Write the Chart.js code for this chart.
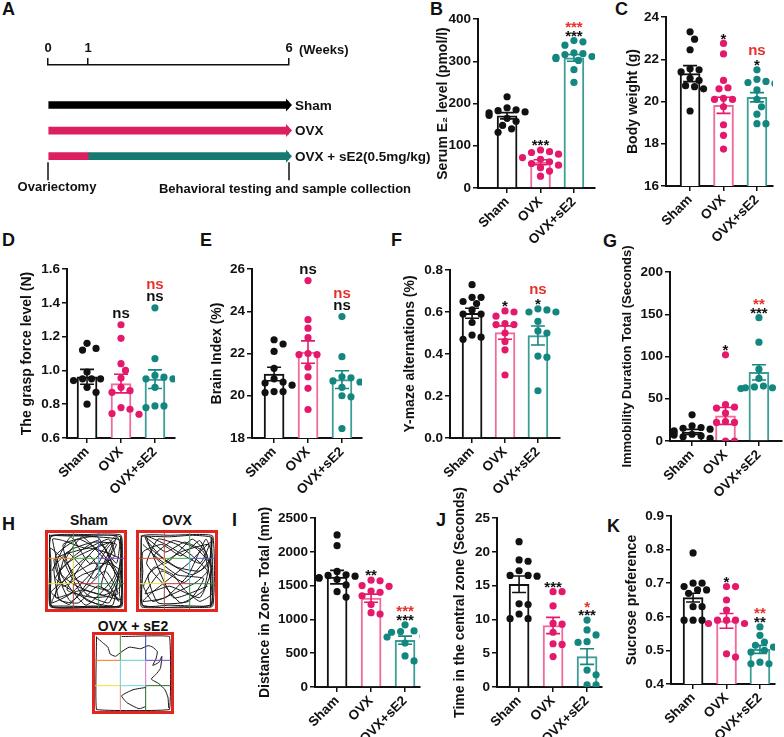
<!DOCTYPE html>
<html>
<head>
<meta charset="utf-8">
<script src="https://cdn.jsdelivr.net/npm/chart.js@4.4.0/dist/chart.umd.min.js"></script>
<style>
  body { margin: 0; width: 784px; height: 737px; position: relative; overflow: hidden; background: #fff;
         font-family: Arial, "Liberation Sans", Helvetica, sans-serif; color: #111; }
  .lab { position: absolute; font-weight: bold; font-size: 18px; line-height: 18px; }
  .cap { position: absolute; font-weight: bold; font-size: 14px; line-height: 14px; transform: translateX(-50%); white-space: nowrap; }
  canvas { position: absolute; }
</style>
</head>
<body>
<div class="lab" style="left:2px;top:0px">A</div>
<div class="lab" style="left:430px;top:0px">B</div>
<div class="lab" style="left:615px;top:0px">C</div>
<div class="lab" style="left:2px;top:231px">D</div>
<div class="lab" style="left:200px;top:231px">E</div>
<div class="lab" style="left:391px;top:231px">F</div>
<div class="lab" style="left:603px;top:232px">G</div>
<div class="lab" style="left:2px;top:515px">H</div>
<div class="lab" style="left:232px;top:511px">I</div>
<div class="lab" style="left:436px;top:511px">J</div>
<div class="lab" style="left:607px;top:517px">K</div>
<div class="cap" style="left:89px;top:513px">Sham</div>
<div class="cap" style="left:177px;top:513px">OVX</div>
<div class="cap" style="left:133px;top:619px">OVX + sE2</div>
<script>
// ---- data ----
const groups = ['Sham', 'OVX', 'OVX+sE2'];

// A: timeline (weeks)
const weekTicks = [0, 1, 6];
const armNames = ['Sham', 'OVX', 'OVX + sE2(0.5mg/kg)'];
const shamSpan = [0, 6];
const ovxSpan = [0, 6];
const se2OvxSpan = [0, 1];
const se2DrugSpan = [1, 6];

// B: serum E2 (pmol/l)
const e2Sham = [216, 190, 185, 183, 180, 178, 172, 165, 158, 148, 140, 132];
const e2Ovx = [90, 86, 84, 80, 72, 68, 62, 58, 54, 48, 40, 28];
const e2Se2 = [349, 346, 338, 320, 318, 316, 311, 309, 306, 302, 280, 250];
const e2Mean = [171, 61, 308];
const e2Sem = [7.5, 6, 8];
const e2VsSham = ['', '***', '***'];
const e2VsOvx = ['', '', '***'];

// C: body weight (g)
const bwSham = [23.3, 22.95, 22.45, 21.55, 21.5, 21.4, 21.1, 21.0, 20.75, 20.7, 20.6, 19.55];
const bwOvx = [22.75, 22.25, 21.0, 20.65, 20.6, 20.15, 20.1, 20.1, 19.75, 18.9, 18.4, 17.75];
const bwSe2 = [21.5, 21.05, 20.95, 20.9, 20.85, 20.55, 20.1, 19.75, 19.4, 18.95, 18.95];
const bwMean = [21.32, 19.82, 20.2];
const bwSem = [0.38, 0.38, 0.22];
const bwVsSham = ['', '*', '*'];
const bwVsOvx = ['', '', 'ns'];

// D: grasp force (N)
const gfSham = [1.16, 1.13, 1.12, 0.99, 0.95, 0.95, 0.95, 0.94, 0.9, 0.87, 0.80];
const gfOvx = [1.27, 1.19, 1.04, 1.0, 0.955, 0.9, 0.88, 0.87, 0.78, 0.77, 0.745, 0.74];
const gfSe2 = [1.37, 1.07, 0.97, 0.96, 0.95, 0.95, 0.9, 0.79, 0.79, 0.78];
const gfMean = [0.962, 0.922, 0.948];
const gfSem = [0.044, 0.055, 0.055];
const gfVsSham = ['', 'ns', 'ns'];
const gfVsOvx = ['', '', 'ns'];

// E: brain index (%)
const biSham = [22.65, 22.45, 22.1, 21.3, 20.8, 20.65, 20.6, 20.5, 20.2, 20.2, 20.15];
const biOvx = [25.45, 23.6, 23.2, 22.75, 22.0, 21.95, 21.95, 21.35, 20.9, 20.35, 19.35];
const biSe2 = [23.75, 21.85, 20.9, 20.85, 20.7, 20.65, 20.4, 20.0, 19.95, 18.45];
const biMean = [21.03, 22.07, 20.76];
const biSem = [0.32, 0.53, 0.42];
const biVsSham = ['', 'ns', 'ns'];
const biVsOvx = ['', '', 'ns'];

// F: Y-maze alternations
const ymSham = [0.73, 0.67, 0.67, 0.65, 0.64, 0.61, 0.59, 0.59, 0.55, 0.49, 0.48, 0.47];
const ymOvx = [0.605, 0.6, 0.58, 0.545, 0.54, 0.54, 0.5, 0.46, 0.42, 0.3];
const ymSe2 = [0.615, 0.61, 0.6, 0.6, 0.555, 0.51, 0.5, 0.39, 0.385, 0.225];
const ymMean = [0.594, 0.502, 0.488];
const ymSem = [0.024, 0.032, 0.045];
const ymVsSham = ['', '*', '*'];
const ymVsOvx = ['', '', 'ns'];

// G: immobility duration (s)
const imSham = [31, 18, 16, 15, 14, 12, 10, 8, 7, 6, 5, 3];
const imOvx = [102, 43, 40, 39, 33, 23, 22, 22, 0, 0];
const imSe2 = [146, 117, 85, 74, 65, 64, 63, 63, 62];
const imMean = [10.7, 29.7, 81.2];
const imSem = [3, 10, 9];
const imVsSham = ['', '*', '***'];
const imVsOvx = ['', '', '**'];

// I: distance in zone (mm)
const dzSham = [2250, 2090, 1710, 1660, 1650, 1640, 1620, 1610, 1590, 1510, 1410, 1330];
const dzOvx = [1580, 1570, 1500, 1490, 1420, 1400, 1350, 1220, 1100, 1080];
const dzSe2 = [920, 830, 820, 810, 750, 740, 650, 460, 385];
const dzMean = [1625, 1314, 692];
const dzSem = [100, 60, 60];
const dzVsSham = ['', '**', '***'];
const dzVsOvx = ['', '', '***'];

// J: time in central zone (s)
const tcSham = [21.5, 18.8, 18.6, 17.2, 16.5, 16.5, 16.4, 12.3, 12.2, 10.8, 10.1, 10.1];
const tcOvx = [14.1, 14.1, 12.0, 9.4, 9.3, 8.1, 6.4, 6.3, 4.5];
const tcSe2 = [9.9, 8.45, 7.7, 6.7, 6.6, 2.5, 1.8, 0.3, 0.3];
const tcMean = [15.2, 9.1, 4.5];
const tcSem = [1.23, 1.2, 1.15];
const tcVsSham = ['', '***', '***'];
const tcVsOvx = ['', '', '*'];

// K: sucrose preference
const spSham = [0.79, 0.70, 0.70, 0.69, 0.68, 0.68, 0.67, 0.63, 0.63, 0.59, 0.59, 0.59];
const spOvx = [0.69, 0.69, 0.65, 0.62, 0.59, 0.59, 0.59, 0.58, 0.58, 0.49, 0.48];
const spSe2 = [0.57, 0.545, 0.525, 0.515, 0.51, 0.5, 0.495, 0.465, 0.46, 0.46];
const spMean = [0.657, 0.588, 0.503];
const spSem = [0.013, 0.022, 0.012];
const spVsSham = ['', '*', '**'];
const spVsOvx = ['', '', '**'];

// H: open field tracks (arena units 0-100)
const shamTrack = [[3,97],[30,96],[60,97],[95,95],[96,60],[94,20],[96,4],[60,3],[20,4],[3,5],[4,40],[3,80],[25,60],[50,20],[80,8],[92,40],[70,75],[40,92],[10,70],[20,30],[45,45],[70,55],[90,85],[60,88],[30,78],[8,55],[15,12],[40,8],[65,30],[85,20],[93,10],[75,40],[55,70],[35,55],[12,25],[5,8],[30,20],[60,50],[88,70],[80,92],[50,80],[20,90],[6,92],[18,45],[38,30],[72,18],[96,30],[82,58],[58,60],[25,40],[4,22],[28,6],[52,35],[78,80],[92,94],[96,75],[85,5],[50,12],[22,62],[45,95],[75,65],[95,50],[70,5],[10,40],[35,70],[65,90],[90,60],[96,96]];
const shamTrack2 = [[5,50],[30,95],[55,60],[90,97],[70,30],[95,12],[45,25],[10,15],[25,75],[60,40],[85,88],[40,70],[15,50],[50,5],[88,45],[65,95],[20,85],[35,40],[80,25],[96,65],[55,80],[8,65],[30,10],[75,50],[92,20],[60,15],[25,25],[45,60],[70,85],[95,40]];
const shamEdge = [[2,98],[2,50],[3,3],[50,2],[97,3],[97,50],[96,97],[50,98],[3,96],[4,60],[4,4],[60,4],[95,5],[95,90],[60,95],[4,95],[3,30],[6,2],[94,3],[97,8],[96,94]];
const ovxTrack = [[4,96],[40,95],[70,97],[96,94],[94,70],[96,40],[95,5],[70,4],[40,5],[5,4],[4,40],[5,75],[30,85],[55,70],[80,90],[92,60],[70,45],[40,60],[15,80],[8,95],[35,75],[60,88],[85,75],[96,20],[80,10],[60,25],[45,45],[20,55],[6,30],[18,10],[45,20],[75,35],[90,50],[70,70],[50,85],[25,92],[10,60],[30,35],[55,8],[85,25],[95,88],[65,60],[40,40],[15,20],[5,10],[35,15],[65,45],[88,92],[96,70],[80,50],[50,55],[28,70],[12,88]];
const ovxTrack2 = [[5,85],[35,60],[70,92],[90,70],[60,35],[30,50],[8,20],[40,30],[80,15],[96,55],[75,80],[45,90],[20,70],[50,45],[85,40],[65,10],[25,8],[12,45],[55,75],[92,85],[80,60],[35,85],[10,95],[45,15],[90,30]];
const ovxEdge = [[3,97],[3,3],[60,3],[97,4],[97,96],[40,97],[4,96],[5,50],[5,5],[95,6],[95,95],[94,3],[97,10]];
const se2Track = [[2,97],[10,90],[17,84],[20,75],[27,72],[35,78],[45,84],[60,82],[70,86],[76,84],[82,78],[80,68],[76,60],[84,64],[88,72],[86,56],[80,48],[74,42],[84,36],[92,28],[96,18],[97,4]];
const se2Loop = [[67,31],[50,28],[35,20],[42,11],[58,3],[67,6]];
const se2Edge = [[35,98],[98,98],[98,2],[2,2],[2,98]];

// ---- setup ----
const FONT = 'Arial, "Liberation Sans", Helvetica, sans-serif';
Chart.defaults.font.family = FONT;
Chart.defaults.color = '#111';
Chart.defaults.animation = false;
Chart.defaults.events = [];
Chart.defaults.plugins.legend.display = false;
Chart.defaults.plugins.tooltip.enabled = false;

const PINK = '#dc1f5f', TEAL = '#177a72', RED = '#e8302a';
const dotColors = ['#111111', '#e4196b', '#13877f'];
const barEdge = ['#111111', '#f06a9c', '#3c9d97'];

function addCanvas(left, top, w, h) {
  const c = document.createElement('canvas');
  c.width = w; c.height = h;
  c.style.left = left + 'px'; c.style.top = top + 'px';
  c.style.width = w + 'px'; c.style.height = h + 'px';
  document.body.appendChild(c);
  return c;
}

// spread equal-ish values sideways like a dot plot
function swarm(vals, pxPerY, unit) {
  const placed = [], out = [];
  const cands = [0, 4.5, -4.5, 9, -9, 13.5, -13.5, 18, -18];
  const order = vals.map((v, i) => i).sort((a, b) => vals[b] - vals[a]);
  order.forEach(i => {
    const py = vals[i] * pxPerY;
    let pick = cands[cands.length - 1];
    for (const c of cands) {
      if (placed.every(p => (p.x - c) ** 2 + (p.y - py) ** 2 >= 58)) { pick = c; break; }
    }
    placed.push({ x: pick, y: py });
    out[i] = pick / unit;
  });
  return out;
}

// ---- A: timeline ----
new Chart(addCanvas(0, 0, 440, 215), {
  type: 'bar',
  data: {
    datasets: [
      { data: [{ x: shamSpan, y: 1 }, { x: ovxSpan, y: 2 }, { x: se2OvxSpan, y: 3 }],
        backgroundColor: ['#000', PINK, PINK], barThickness: 7, grouped: false, borderWidth: 0 },
      { data: [{ x: se2DrugSpan, y: 3 }], backgroundColor: TEAL, barThickness: 7, grouped: false, borderWidth: 0 }
    ]
  },
  options: {
    indexAxis: 'y',
    responsive: false, devicePixelRatio: 1,
    layout: { padding: { left: 48, right: 151, top: 40, bottom: 31.6 } },
    scales: {
      x: { type: 'linear', position: 'top', min: 0, max: 6,
           afterBuildTicks: s => { s.ticks = weekTicks.map(v => ({ value: v })); },
           afterFit: s => { s.height = 25; },
           ticks: { font: { size: 13, weight: 'bold' }, color: '#111', padding: 2, maxRotation: 0 },
           grid: { drawOnChartArea: false, tickLength: 7, color: '#111', lineWidth: 1.5 },
           border: { color: '#111', width: 1.5 } },
      y: { type: 'linear', display: false, reverse: true, min: -0.1, max: 3.6 }
    }
  },
  plugins: [{
    id: 'timeline',
    afterDatasetsDraw(chart) {
      const { ctx, scales: { x, y } } = chart;
      ctx.save();
      const ends = [[1, shamSpan[1], '#000'], [2, ovxSpan[1], PINK], [3, se2DrugSpan[1], TEAL]];
      ctx.font = 'bold 13.5px ' + FONT;
      ctx.textBaseline = 'middle';
      ends.forEach(([row, wk, col], i) => {
        const px = x.getPixelForValue(wk), py = y.getPixelForValue(row);
        ctx.fillStyle = col;
        ctx.beginPath();
        ctx.moveTo(px - 3, py - 6.5); ctx.lineTo(px + 3, py); ctx.lineTo(px - 3, py + 6.5);
        ctx.closePath(); ctx.fill();
        ctx.fillStyle = '#111'; ctx.textAlign = 'left';
        ctx.fillText(armNames[i], px + 6, py + 1);
      });
      const yb = y.getPixelForValue(3);
      ctx.strokeStyle = '#111'; ctx.lineWidth = 1.5;
      [0, 6].forEach(wk => {
        const px = x.getPixelForValue(wk);
        ctx.beginPath(); ctx.moveTo(px, yb + 6); ctx.lineTo(px, yb + 24); ctx.stroke();
      });
      ctx.font = 'bold 13px ' + FONT;
      ctx.fillStyle = '#111'; ctx.textAlign = 'center';
      ctx.fillText('Ovariectomy', x.getPixelForValue(0) + 9, yb + 31);
      ctx.fillText('Behavioral testing and sample collection', x.getPixelForValue(6) - 4, yb + 33);
      ctx.textAlign = 'left';
      ctx.fillText('(Weeks)', x.getPixelForValue(6) + 10, 50);
      ctx.restore();
    }
  }]
});

// ---- bar + dot panels ----
function barPanel(p) {
  const padTop = 60, xH = 56, padR = 6;
  const left = p.axisX - p.yW, top = p.topY - padTop;
  const w = p.endX - left + padR, h = p.bottomY - top + xH;
  const unit = (p.endX - p.axisX) / (p.xmax - p.xmin);
  const pxPerY = (p.bottomY - p.topY) / (p.ymax - p.ymin);
  const dots = p.points.map((vals, g) => {
    const offs = swarm(vals, pxPerY, unit);
    return { type: 'scatter', order: 1, data: vals.map((v, i) => ({ x: g + offs[i], y: v })),
             pointRadius: 3.6, pointHoverRadius: 3.6, backgroundColor: dotColors[g], borderWidth: 0 };
  });
  const tickFont = { size: 13.5, weight: 'bold' };
  new Chart(addCanvas(left, top, w, h), {
    type: 'bar',
    data: {
      datasets: [{ type: 'bar', order: 2, data: p.mean.map((m, g) => ({ x: g, y: m })),
                   backgroundColor: '#fff', borderColor: barEdge, borderWidth: 2, barThickness: 20 }, ...dots]
    },
    options: {
      responsive: false, devicePixelRatio: 1,
      layout: { padding: { left: 0, right: padR, top: padTop, bottom: 0 } },
      scales: {
        x: { type: 'linear', min: p.xmin, max: p.xmax, offset: false,
             afterBuildTicks: s => { s.ticks = [0, 1, 2].map(v => ({ value: v })); },
             afterFit: s => { s.height = xH; },
             ticks: { callback: v => groups[v], minRotation: 45, maxRotation: 45, font: tickFont, color: '#111', padding: 1 },
             grid: { offset: false, drawOnChartArea: false, tickLength: 5, color: '#111', lineWidth: 1.5 },
             border: { color: '#111', width: 2 } },
        y: { type: 'linear', min: p.ymin, max: p.ymax,
             afterFit: s => { s.width = p.yW; },
             ticks: { stepSize: p.step, callback: v => v.toFixed(p.dec), font: tickFont, color: '#111', padding: 2 },
             grid: { drawOnChartArea: false, tickLength: 5, color: '#111', lineWidth: 1.5 },
             border: { color: '#111', width: 2 },
             title: { display: true, text: p.title, font: { size: p.titleSize || 14, weight: 'bold' }, color: '#111', padding: 0 } }
      }
    },
    plugins: [{
      id: 'errAndSig',
      afterDatasetsDraw(chart) {
        const { ctx, scales: { x, y } } = chart;
        ctx.save();
        p.mean.forEach((m, g) => {
          const cx = x.getPixelForValue(g);
          const yt = y.getPixelForValue(m + p.sem[g]), yb = y.getPixelForValue(m - p.sem[g]);
          ctx.strokeStyle = dotColors[g]; ctx.lineWidth = 1.6;
          ctx.beginPath();
          ctx.moveTo(cx, yt); ctx.lineTo(cx, yb);
          ctx.moveTo(cx - 7, yt); ctx.lineTo(cx + 7, yt);
          ctx.moveTo(cx - 7, yb); ctx.lineTo(cx + 7, yb);
          ctx.stroke();
        });
        ctx.textAlign = 'center'; ctx.textBaseline = 'alphabetic';
        ctx.font = 'bold 15px ' + FONT;
        p.points.forEach((vals, g) => {
          const cx = x.getPixelForValue(g);
          let bottom = y.getPixelForValue(Math.max(...vals)) - 3.6 - 3;
          [[p.black[g], '#111'], [p.red[g], RED]].forEach(([t, col]) => {
            if (!t) return;
            const stars = t.indexOf('*') >= 0;
            ctx.fillStyle = col;
            ctx.fillText(t, cx, stars ? bottom + 6.7 : bottom);
            bottom -= (stars ? 4.5 : 8) + 4;
          });
        });
        ctx.restore();
      }
    }]
  });
}

barPanel({ axisX: 478, topY: 19, bottomY: 188, endX: 595, xmin: -0.87, xmax: 2.63, yW: 43,
  ymin: 0, ymax: 400, step: 100, dec: 0, title: 'Serum E\u2082 level (pmol/l)',
  points: [e2Sham, e2Ovx, e2Se2], mean: e2Mean, sem: e2Sem, black: e2VsSham, red: e2VsOvx });
barPanel({ axisX: 666, topY: 17, bottomY: 186, endX: 773, xmin: -0.72, xmax: 2.48, yW: 41,
  ymin: 16, ymax: 24, step: 2, dec: 0, title: 'Body weight (g)',
  points: [bwSham, bwOvx, bwSe2], mean: bwMean, sem: bwSem, black: bwVsSham, red: bwVsOvx });
barPanel({ axisX: 67, topY: 269, bottomY: 438, endX: 175, xmin: -0.59, xmax: 2.59, yW: 48,
  ymin: 0.6, ymax: 1.6, step: 0.2, dec: 1, title: 'The grasp force level (N)',
  points: [gfSham, gfOvx, gfSe2], mean: gfMean, sem: gfSem, black: gfVsSham, red: gfVsOvx });
barPanel({ axisX: 252, topY: 269, bottomY: 438, endX: 362, xmin: -0.65, xmax: 2.59, yW: 43,
  ymin: 18, ymax: 26, step: 2, dec: 0, title: 'Brain Index (%)',
  points: [biSham, biOvx, biSe2], mean: biMean, sem: biSem, black: biVsSham, red: biVsOvx });
barPanel({ axisX: 450, topY: 270, bottomY: 438, endX: 560, xmin: -0.67, xmax: 2.67, yW: 48,
  ymin: 0, ymax: 0.8, step: 0.2, dec: 1, title: 'Y-maze alternations (%)',
  points: [ymSham, ymOvx, ymSe2], mean: ymMean, sem: ymSem, black: ymVsSham, red: ymVsOvx });
barPanel({ axisX: 670, topY: 272, bottomY: 441, endX: 782, xmin: -0.66, xmax: 2.69, yW: 50, titleSize: 13,
  ymin: 0, ymax: 200, step: 50, dec: 0, title: 'Immobility Duration Total (Seconds)',
  points: [imSham, imOvx, imSe2], mean: imMean, sem: imSem, black: imVsSham, red: imVsOvx });
barPanel({ axisX: 315, topY: 518, bottomY: 687, endX: 420, xmin: -0.65, xmax: 2.44, yW: 58,
  ymin: 0, ymax: 2500, step: 500, dec: 0, title: 'Distance in Zone- Total (mm)',
  points: [dzSham, dzOvx, dzSe2], mean: dzMean, sem: dzSem, black: dzVsSham, red: dzVsOvx });
barPanel({ axisX: 497, topY: 518, bottomY: 687, endX: 602, xmin: -0.65, xmax: 2.44, yW: 45,
  ymin: 0, ymax: 25, step: 5, dec: 0, title: 'Time in the central zone (Seconds)',
  points: [tcSham, tcOvx, tcSe2], mean: tcMean, sem: tcSem, black: tcVsSham, red: tcVsOvx });
barPanel({ axisX: 671, topY: 516, bottomY: 684, endX: 775, xmin: -0.66, xmax: 2.45, yW: 47,
  ymin: 0.4, ymax: 0.9, step: 0.1, dec: 1, title: 'Sucrose preference',
  points: [spSham, spOvx, spSe2], mean: spMean, sem: spSem, black: spVsSham, red: spVsOvx });

// ---- H: open field tracks ----
function trackPanel(left, top, paths, cols) {
  const size = 82;
  const cuts = [0, 100 / 3, 200 / 3, 100];
  const sets = [];
  [100 / 3, 200 / 3].forEach((g, k) => {
    for (let s = 0; s < 3; s++) {
      sets.push({ data: [{ x: g, y: cuts[s] }, { x: g, y: cuts[s + 1] }], borderColor: cols[k * 3 + s], borderWidth: 1 });
      sets.push({ data: [{ x: cuts[s], y: g }, { x: cuts[s + 1], y: g }], borderColor: cols[6 + k * 3 + s], borderWidth: 1 });
    }
  });
  paths.forEach(path => sets.push({ data: path.map(([x, y]) => ({ x, y })), borderColor: '#151515', borderWidth: 1, tension: 0.15 }));
  new Chart(addCanvas(left, top, size, size), {
    type: 'scatter',
    data: { datasets: sets.map(d => Object.assign({ showLine: true, pointRadius: 0 }, d)) },
    options: {
      responsive: false, devicePixelRatio: 1,
      layout: { padding: 3 },
      scales: { x: { display: false, min: 0, max: 100 }, y: { display: false, min: 0, max: 100 } }
    },
    plugins: [{
      id: 'frame',
      afterDraw(chart) {
        const ctx = chart.ctx;
        ctx.save(); ctx.strokeStyle = '#e2261d'; ctx.lineWidth = 3;
        ctx.strokeRect(1.5, 1.5, size - 3, size - 3); ctx.restore();
      }
    }]
  });
}
const gridSham = ['#a04848', '#e0dc40', '#4aa04a', '#2f8f3f', '#58b8d0', '#5060c0', '#f0e040', '#c83a3a', '#2f8f3f', '#f08a1c', '#46b04a', '#8a4ac8'];
const gridOvx = ['#a04848', '#e0dc40', '#d04040', '#2f8f3f', '#58b8d0', '#3f9f4f', '#f0e040', '#c83a3a', '#2f8f3f', '#e04a2a', '#46b04a', '#5060c0'];
const gridSe2 = ['#c89090', '#60d0e0', '#3a9a3a', '#2a6a2a', '#d070c8', '#3040a0', '#f0e040', '#70d8e0', '#2a6a2a', '#f07820', '#60d0d0', '#7040c8'];
trackPanel(45, 530, [shamTrack, shamTrack2, shamEdge], gridSham);
trackPanel(136, 530, [ovxTrack, ovxTrack2, ovxEdge], gridOvx);
trackPanel(92, 632, [se2Track, se2Loop, se2Edge], gridSe2);
</script>
</body>
</html>
